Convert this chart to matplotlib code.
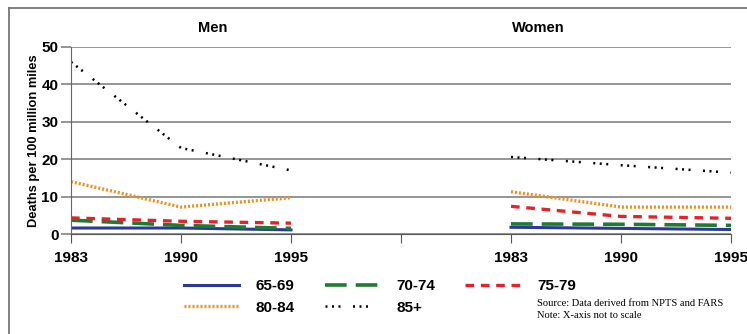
import matplotlib.pyplot as plt
from matplotlib.lines import Line2D

plt.rcParams['font.family'] = ['Liberation Sans', 'DejaVu Sans']

# data (deaths per 100 million miles)
years = ['1983', '1990', '1995']
groups = ['65-69', '70-74', '75-79', '80-84', '85+']
men = {
    '65-69': [1.6, 1.6, 1.1],
    '70-74': [3.7, 2.3, 1.5],
    '75-79': [4.3, 3.4, 2.9],
    '80-84': [14.0, 7.2, 9.7],
    '85+':   [46.0, 23.0, 17.0],
}
women = {
    '65-69': [1.8, 1.5, 1.2],
    '70-74': [2.7, 2.6, 2.3],
    '75-79': [7.4, 4.7, 4.2],
    '80-84': [11.3, 7.2, 7.2],
    '85+':   [20.6, 18.4, 16.4],
}

styles = {
    '65-69': dict(color='#2b3a97', lw=2.2, ls='-'),
    '70-74': dict(color='#1f7a32', lw=2.6, ls=(0, (6, 2.5))),
    '75-79': dict(color='#e3222b', lw=2.4, ls=(0, (2.6, 2))),
    '80-84': dict(color='#f0901c', lw=2.4, ls=(0, (0.6, 0.6))),
    '85+':   dict(color='black', lw=1.8, ls=(0, (0.8, 1.8, 0.8, 1.8, 0.8, 5))),
}

men_x = [0, 1, 2]
women_x = [4, 5, 6]

fig = plt.figure(figsize=(7.47, 3.34), dpi=100)
ax = fig.add_axes([71/747, 1 - 234/334, 660/747, 187/334])

for g in groups:
    ax.plot(men_x, men[g], **styles[g])
    ax.plot(women_x, women[g], **styles[g])

ax.set_xlim(0, 6)
ax.set_ylim(0, 50)
ax.set_yticks([0, 10, 20, 30, 40, 50])
ax.set_xticks([0, 1, 2, 3, 4, 5, 6])
ax.set_xticklabels(years + [''] + years)
ax.yaxis.grid(True, color='#8c8c8c', lw=1.3)
ax.set_axisbelow(True)
for s in ['top', 'right']:
    ax.spines[s].set_visible(False)
ax.spines['left'].set_color('#666666')
ax.spines['bottom'].set_color('#555555')
ax.tick_params(axis='x', direction='out', length=6.5, color='#555555', pad=6)
ax.tick_params(axis='y', direction='out', length=7, color='#8c8c8c', width=1.3, pad=2)
for lbl in ax.get_xticklabels() + ax.get_yticklabels():
    lbl.set_fontweight('bold')
    lbl.set_fontsize(11)
ax.set_ylabel('Deaths per 100 million miles', fontsize=9.3, fontweight='bold', labelpad=1)

fig.text(213/747, 1 - 28/334, 'Men', ha='center', va='center', fontsize=10.5, fontweight='bold')
fig.text(538/747, 1 - 28/334, 'Women', ha='center', va='center', fontsize=10.5, fontweight='bold')

# legend, row-wise layout
order = ['65-69', '80-84', '70-74', '85+', '75-79']
handles = [Line2D([], [], **styles[g]) for g in order]
leg = fig.legend(handles, order, ncol=3, loc='center left',
                 bbox_to_anchor=(184/747, 1 - 297/334), frameon=False,
                 borderpad=0, borderaxespad=0,
                 handlelength=3.6, columnspacing=1.95, handletextpad=1.1,
                 labelspacing=0.5, prop=dict(size=11, weight='bold'))

fig.text(537/747, 1 - 304/334, 'Source: Data derived from NPTS and FARS',
         family='Liberation Serif', fontsize=7.6, va='center')
fig.text(537/747, 1 - 315/334, 'Note: X-axis not to scale',
         family='Liberation Serif', fontsize=7.6, va='center')

# outer frame (top and left)
fig.add_artist(Line2D([9/747, 1], [1 - 8/334, 1 - 8/334], color='#777777', lw=1.3))
fig.add_artist(Line2D([9/747, 9/747], [0, 1 - 8/334], color='#777777', lw=1.3))

fig.savefig('out.png', dpi=100)
